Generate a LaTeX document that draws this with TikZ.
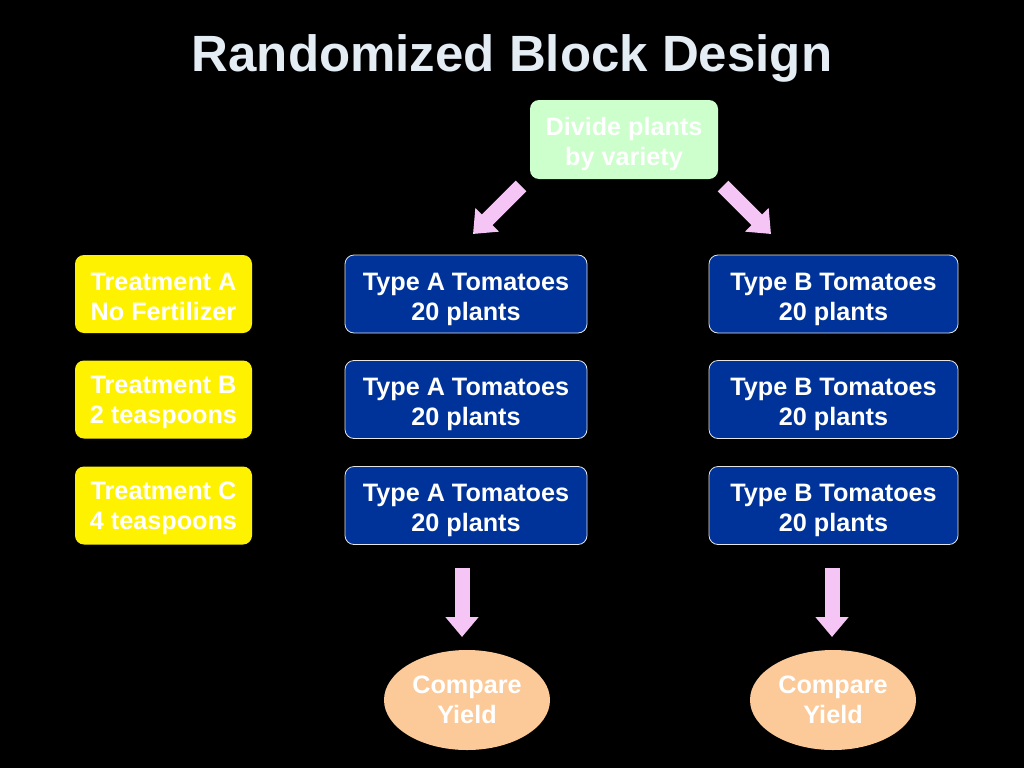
\documentclass[tikz,border=0pt]{standalone}
\usepackage{fontspec}
\setmainfont{Liberation Sans}
\usetikzlibrary{arrows.meta,shapes.geometric}
\definecolor{bluebox}{HTML}{003399}
\definecolor{greenbox}{HTML}{CCFFCC}
\definecolor{pinkarrow}{HTML}{F5C6F5}
\definecolor{peach}{HTML}{FCCA98}
\definecolor{titlecol}{HTML}{E4ECF4}
\newcommand{\myup}[1]{\rule{0pt}{#1}}
\begin{document}
\begin{tikzpicture}[x=1pt,y=-1pt,
  txt/.style={font=\fontsize{25.2}{30}\selectfont\bfseries, text=white, align=center},
  yelbox/.style={txt, fill=yellow, rounded corners=9pt, minimum width=177pt, minimum height=78pt, inner sep=0pt},
  typebox/.style={txt, fill=bluebox, draw=white!80!gray, line width=0.8pt, rounded corners=9pt, minimum width=242pt, minimum height=78pt, inner sep=0pt},
  greenstyle/.style={txt, fill=greenbox, rounded corners=9pt, minimum width=188pt, minimum height=79pt, inner sep=0pt},
  yieldstyle/.style={txt, ellipse, fill=peach, minimum width=166pt, minimum height=100pt, inner sep=0pt},
  blockarrow/.style={draw=pinkarrow, line width=15pt, -{Triangle[width=32pt,length=20pt]}, pinkarrow}
]
\fill[black] (0,0) rectangle (1024,768);
\useasboundingbox (0,0) rectangle (1024,768);
\node[font=\fontsize{51}{56}\selectfont\bfseries, text=titlecol] (title) at (512,58) {Randomized Block Design};
\node[greenstyle] (divide) at (624,139.5) {\myup{27pt}Divide plants\\by variety};
\node[yelbox] (ta) at (163.5,294) {\myup{23pt}Treatment A\\No Fertilizer};
\node[yelbox] (tb) at (163.5,399.5) {\myup{23pt}Treatment B\\2 teaspoons};
\node[yelbox] (tc) at (163.5,505.5) {\myup{23pt}Treatment C\\4 teaspoons};
\node[typebox] (a1) at (466,294) {\myup{28pt}Type A Tomatoes\\20 plants};
\node[typebox] (a2) at (466,399.5) {\myup{28pt}Type A Tomatoes\\20 plants};
\node[typebox] (a3) at (466,505.5) {\myup{28pt}Type A Tomatoes\\20 plants};
\node[typebox, minimum width=249pt] (b1) at (833.5,294) {\myup{28pt}Type B Tomatoes\\20 plants};
\node[typebox, minimum width=249pt] (b2) at (833.5,399.5) {\myup{28pt}Type B Tomatoes\\20 plants};
\node[typebox, minimum width=249pt] (b3) at (833.5,505.5) {\myup{28pt}Type B Tomatoes\\20 plants};
\node[yieldstyle] (ya) at (467,700) {Compare\\Yield};
\node[yieldstyle] (yb) at (833,700) {Compare\\Yield};
\coordinate (l0) at (521,186);
\coordinate (l1) at (473,234);
\coordinate (r0) at (723,186);
\coordinate (r1) at (771,234);
\coordinate (da0) at (462,568);
\coordinate (da1) at (462,637);
\coordinate (db0) at (832,568);
\coordinate (db1) at (832,637);
\draw[blockarrow] (l0) -- (l1);
\draw[blockarrow] (r0) -- (r1);
\draw[blockarrow] (da0) -- (da1);
\draw[blockarrow] (db0) -- (db1);
\end{tikzpicture}
\end{document}
